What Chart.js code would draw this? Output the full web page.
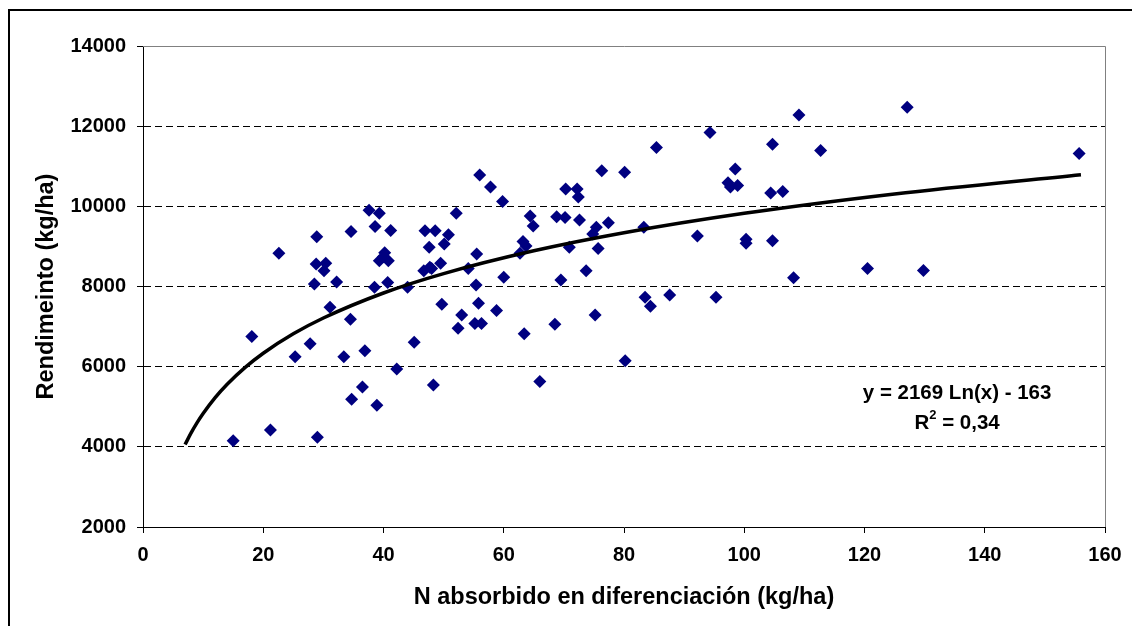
<!DOCTYPE html>
<html>
<head>
<meta charset="utf-8">
<script src="https://cdn.jsdelivr.net/npm/chart.js@4/dist/chart.umd.min.js"></script>
<style>
  html, body { margin: 0; padding: 0; background: #fff; }
  canvas { display: block; }
</style>
</head>
<body>
<canvas id="yieldChart" width="1132" height="626"></canvas>
<script>
// N absorbido (kg/ha) y rendimiento (kg/ha)
const nAbsorbido = [
  15.0, 18.1, 21.2, 22.6, 25.3, 27.8, 28.5, 28.8, 28.9, 29.0,
  30.1, 30.4, 31.1, 32.2, 33.4, 34.5, 34.6, 34.7, 36.5, 36.9,
  37.6, 38.5, 38.6, 38.9, 39.3, 39.3, 40.2, 40.8, 40.0, 40.7,
  41.2, 42.2, 44.0, 45.1, 46.9, 46.7, 47.6, 47.7, 48.0, 48.3,
  48.6, 49.5, 49.7, 50.1, 50.8, 52.1, 52.4, 53.0, 54.1, 55.4,
  55.5, 55.2, 56.3, 55.8, 56.0, 57.8, 58.8, 59.8, 60.0, 62.7,
  63.2, 63.7, 63.4, 64.4, 64.9, 66.0, 68.5, 68.8, 69.5, 70.2,
  70.3, 70.9, 72.2, 72.4, 72.6, 73.7, 74.8, 75.2, 75.4, 75.7,
  76.3, 77.4, 80.1, 80.2, 83.3, 83.5, 84.4, 85.4, 87.6, 92.2,
  94.3, 95.3, 97.3, 97.7, 98.5, 98.9, 100.3, 100.3, 104.4, 104.7,
  104.7, 106.4, 108.2, 109.1, 112.7, 120.5, 127.1, 129.8, 155.7
];
const rendimiento = [
  4150, 6750, 4420, 8830, 6250, 6570, 8060, 8560, 9240, 4240,
  8390, 8580, 7480, 8110, 6250, 7180, 9370, 5190, 5490, 6400,
  9900, 7980, 9500, 5040, 9830, 8640, 8840, 8640, 8740, 8100,
  9400, 5940, 7980, 6610, 9390, 8390, 8980, 8480, 8450, 5540,
  9390, 8580, 7560, 9060, 9290, 9830, 6960, 7290, 8450, 8040,
  8810, 7080, 7080, 7580, 10780, 10480, 7400, 10120, 8230, 8830,
  9120, 9010, 6820, 9760, 9510, 5630, 7060, 9740, 8160, 9720,
  10430, 8980, 10430, 10230, 9660, 8390, 9310, 7290, 9480, 8950,
  10890, 9590, 10850, 6150, 9480, 7730, 7510, 11470, 7790, 9260,
  11840, 7730, 10590, 10480, 10930, 10520, 9180, 9080, 10330, 11550,
  9140, 10370, 8220, 12280, 11390, 8450, 12470, 8400, 11320
];

// curva de tendencia logaritmica (y = 2169 Ln(x) - 163)
const trendX = [7, 8, 9, 10, 12, 14, 17, 20, 25, 30, 40, 50, 65, 80, 100, 125, 156];
const trendY = [4058, 4347, 4603, 4831, 5227, 5561, 5982, 6335, 6819, 7214, 7838, 8322, 8891, 9342, 9826, 10310, 10790];
const trendLabel = ["y = 2169 Ln(x) - 163", "R", "2", " = 0,34"];

const xTicks = [0, 20, 40, 60, 80, 100, 120, 140, 160];
const yTicks = [2000, 4000, 6000, 8000, 10000, 12000, 14000];

const FONT = "'Liberation Sans', Arial, sans-serif";

const framePlugin = {
  id: "frame",
  beforeDraw(chart) {
    const ctx = chart.ctx;
    ctx.save();
    ctx.fillStyle = "#fff";
    ctx.fillRect(0, 0, chart.width, chart.height);
    ctx.strokeStyle = "#000";
    ctx.lineWidth = 2;
    ctx.beginPath();
    ctx.moveTo(9, chart.height);
    ctx.lineTo(9, 10);
    ctx.lineTo(chart.width, 10);
    ctx.stroke();
    ctx.restore();
  },
  afterDraw(chart) {
    const { ctx, chartArea: a } = chart;
    ctx.save();
    ctx.strokeStyle = "#808080";
    ctx.lineWidth = 1;
    ctx.beginPath();
    ctx.moveTo(a.left, a.top + 0.5);
    ctx.lineTo(a.right + 0.5, a.top + 0.5);
    ctx.lineTo(a.right + 0.5, a.bottom);
    ctx.stroke();

    // etiqueta de la ecuacion
    const xs = chart.scales.x, ys = chart.scales.y;
    const cx = xs.getPixelForValue(135.4);
    const y1 = ys.getPixelForValue(5330);
    const y2 = ys.getPixelForValue(4580);
    ctx.fillStyle = "#000";
    ctx.textBaseline = "middle";
    ctx.textAlign = "center";
    ctx.font = "bold 20.5px " + FONT;
    ctx.fillText(trendLabel[0], cx, y1);
    const wR = ctx.measureText(trendLabel[1]).width;
    const wRest = ctx.measureText(trendLabel[3]).width;
    ctx.font = "bold 13px " + FONT;
    const wSup = ctx.measureText(trendLabel[2]).width;
    const total = wR + wSup + wRest;
    const sx = cx - total / 2;
    ctx.textAlign = "left";
    ctx.font = "bold 20.5px " + FONT;
    ctx.fillText(trendLabel[1], sx, y2);
    ctx.font = "bold 13px " + FONT;
    ctx.fillText(trendLabel[2], sx + wR, y2 - 8);
    ctx.font = "bold 20.5px " + FONT;
    ctx.fillText(trendLabel[3], sx + wR + wSup, y2);
    ctx.restore();
  }
};

const ctx = document.getElementById("yieldChart").getContext("2d");
new Chart(ctx, {
  type: "scatter",
  data: {
    datasets: [
      {
        label: "Tendencia",
        data: trendX.map((x, i) => ({ x, y: trendY[i] })),
        showLine: true,
        borderColor: "#000",
        borderWidth: 3.5,
        pointRadius: 0,
        cubicInterpolationMode: "monotone",
        order: 0
      },
      {
        label: "Rendimiento",
        data: nAbsorbido.map((x, i) => ({ x, y: rendimiento[i] })),
        pointStyle: "rectRot",
        pointRadius: 6.5,
        backgroundColor: "#000080",
        borderColor: "#000080",
        borderWidth: 0,
        order: 1
      }
    ]
  },
  options: {
    responsive: false,
    devicePixelRatio: 1,
    animation: false,
    layout: { padding: { left: 0, top: 46, right: 27, bottom: 0 } },
    plugins: {
      legend: { display: false },
      tooltip: { enabled: false }
    },
    scales: {
      x: {
        type: "linear",
        min: 0,
        max: 160,
        afterFit(scale) { scale.height = 99; },
        afterBuildTicks(scale) { scale.ticks = xTicks.map(v => ({ value: v })); },
        grid: { drawOnChartArea: false, drawTicks: true, tickLength: 6, tickColor: "#000" },
        border: { display: true, color: "#000", width: 1 },
        ticks: {
          color: "#000", padding: 10,
          font: { family: FONT, size: 20, weight: "bold" },
          callback: v => String(v)
        },
        title: {
          display: true,
          text: "N absorbido en diferenciación (kg/ha)",
          color: "#000",
          padding: { top: 0, bottom: 14 },
          font: { family: FONT, size: 23.5, weight: "bold" }
        }
      },
      y: {
        min: 2000,
        max: 14000,
        afterFit(scale) { scale.width = 143; },
        afterBuildTicks(scale) { scale.ticks = yTicks.map(v => ({ value: v })); },
        grid: { color: "#000", lineWidth: 1, drawTicks: true, tickLength: 6, tickColor: "#000" },
        border: { display: true, color: "#000", width: 1, dash: [7, 4] },
        ticks: {
          color: "#000", padding: 11,
          font: { family: FONT, size: 20, weight: "bold" },
          callback: v => String(v)
        },
        title: {
          display: true,
          text: "Rendimeinto (kg/ha)",
          color: "#000",
          padding: { top: 32, bottom: 0 },
          font: { family: FONT, size: 23.5, weight: "bold" }
        }
      }
    }
  },
  plugins: [framePlugin]
});
</script>
</body>
</html>
